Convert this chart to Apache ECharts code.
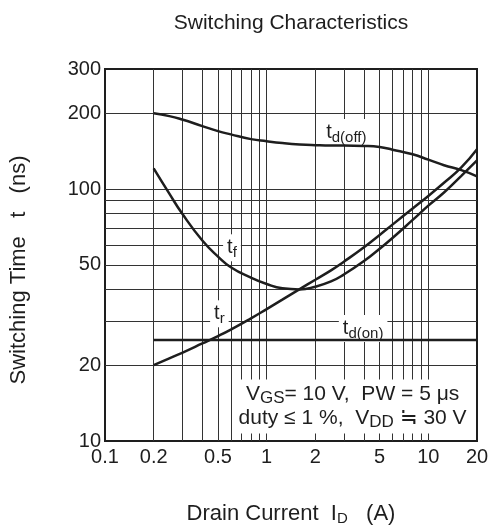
<!DOCTYPE html>
<html>
<head>
<meta charset="utf-8">
<script src="https://cdn.jsdelivr.net/npm/echarts@6/dist/echarts.min.js"></script>
<style>
  html, body { margin: 0; padding: 0; background: #fff; }
  #chart { width: 496px; height: 531px; }
</style>
</head>
<body>
<div id="chart"></div>
<script>
// drain current (A) vs switching time (ns)
var currents = [0.2, 0.25, 0.3, 0.4, 0.5, 0.6, 0.8, 1, 1.25, 1.6, 2, 2.5, 3, 4, 5, 6, 8, 10, 12.5, 16, 20];
var tdOffVals = [200, 195, 189, 178, 170, 165, 158, 155, 152.5, 150.5, 149.5, 149, 149, 148.5, 147, 143.5, 137.5, 131, 124.5, 119, 112.5];
var tfVals = [121, 96, 80, 62.5, 54, 49, 44.5, 42, 40.4, 40, 41, 43, 45.8, 51.8, 58, 64, 75.5, 86, 97, 113, 130];
var trVals = [20, 21.3, 22.4, 24.4, 26.1, 27.7, 30.7, 33.4, 36.4, 40.1, 43.7, 47.6, 51.5, 58.8, 65.8, 72.3, 83.8, 94, 106, 122, 144];
var tdOnX = [0.2, 20];
var tdOnVals = [25.2, 25.2];

var xLabels = [0.1, 0.2, 0.5, 1, 2, 5, 10, 20];
var yLabels = [10, 20, 50, 100, 200, 300];
var xGrid = [0.2, 0.3, 0.4, 0.5, 0.6, 0.7, 0.8, 0.9, 1, 2, 3, 4, 5, 6, 7, 8, 9, 10];
var yGrid = [20, 30, 40, 50, 60, 70, 80, 90, 100, 200];

var font = 'Liberation Sans, Arial, sans-serif';
var ink = '#1e1e1e';
var big = { fontSize: 20, fontFamily: font, color: ink };
var sub = { fontSize: 15, fontFamily: font, color: ink, padding: [10, 0, 0, 0] };

function pairs(xs, ys) {
  return xs.map(function (x, i) { return [x, ys[i]]; });
}

function curveLabel(coord, subText) {
  return {
    coord: coord,
    symbolSize: 0,
    label: {
      show: true,
      position: 'inside',
      formatter: '{t|t}{s|' + subText + '}',
      backgroundColor: '#fff',
      padding: [1, 4],
      rich: { t: big, s: sub }
    }
  };
}

// labels sit under the curves but over the grid lines
function curve(name, data, mark) {
  return {
    name: name,
    type: 'line',
    data: data,
    smooth: 0.5,
    symbol: 'none',
    lineStyle: { color: ink, width: 2.5 },
    z: 3,
    markPoint: { symbol: 'circle', data: mark, z: 2 }
  };
}

var chart = echarts.init(document.getElementById('chart'));
chart.setOption({
  animation: false,
  backgroundColor: '#fff',
  title: {
    text: 'Switching Characteristics',
    left: 286, top: 8, textAlign: 'center',
    textStyle: { fontFamily: font, fontSize: 21, fontWeight: 'normal', color: ink }
  },
  grid: {
    left: 102, right: 19, top: 69, bottom: 88,
    show: true, borderColor: ink, borderWidth: 2, backgroundColor: 'transparent'
  },
  xAxis: {
    type: 'log', logBase: 10, min: 0.1, max: 20,
    name: '{a|Drain Current  I}{s|D}{a|   (A)}',
    nameLocation: 'middle', nameGap: 60,
    nameTextStyle: { rich: { a: { fontSize: 22, fontFamily: font, color: ink }, s: sub } },
    axisLine: { show: false },
    axisTick: { show: false, customValues: xGrid },
    axisLabel: { customValues: xLabels, fontFamily: font, fontSize: 20, color: ink, margin: 6 },
    splitLine: { show: true, lineStyle: { color: '#333', width: 1 } }
  },
  yAxis: {
    type: 'log', logBase: 10, min: 10, max: 300,
    name: 'Switching Time   t   (ns)',
    nameLocation: 'middle', nameGap: 75,
    nameTextStyle: { fontFamily: font, fontSize: 22, color: ink, padding: [0, 30, 0, 0] },
    axisLine: { show: false },
    axisTick: { show: false, customValues: yGrid },
    axisLabel: { customValues: yLabels, fontFamily: font, fontSize: 20, color: ink, margin: 4 },
    splitLine: { show: true, lineStyle: { color: '#333', width: 1 } }
  },
  series: [
    curve('td(off)', pairs(currents, tdOffVals), [curveLabel([3.11, 168], 'd(off)')]),
    curve('tf', pairs(currents, tfVals), [curveLabel([0.61, 58.5], 'f')]),
    curve('tr', pairs(currents, trVals), [curveLabel([0.51, 32], 'r')]),
    curve('td(on)', pairs(tdOnX, tdOnVals), [
      curveLabel([3.95, 28], 'd(on)'),
      {
        coord: [3.4, 13.7],
        symbolSize: 0,
        label: {
          show: true,
          position: 'inside',
          backgroundColor: '#fff',
          padding: [3, 5],
          lineHeight: 24,
          formatter: '{v|V}{s|GS}{v|= 10 V,  PW = 5 \u03bcs}\n{v|duty \u2264 1 %,  V}{s|DD}{v| \u2252 30 V}',
          rich: {
            v: { fontSize: 21, fontFamily: font, color: ink },
            s: { fontSize: 17, fontFamily: font, color: ink, padding: [8, 0, 0, 0] }
          }
        }
      }
    ])
  ]
});
</script>
</body>
</html>
